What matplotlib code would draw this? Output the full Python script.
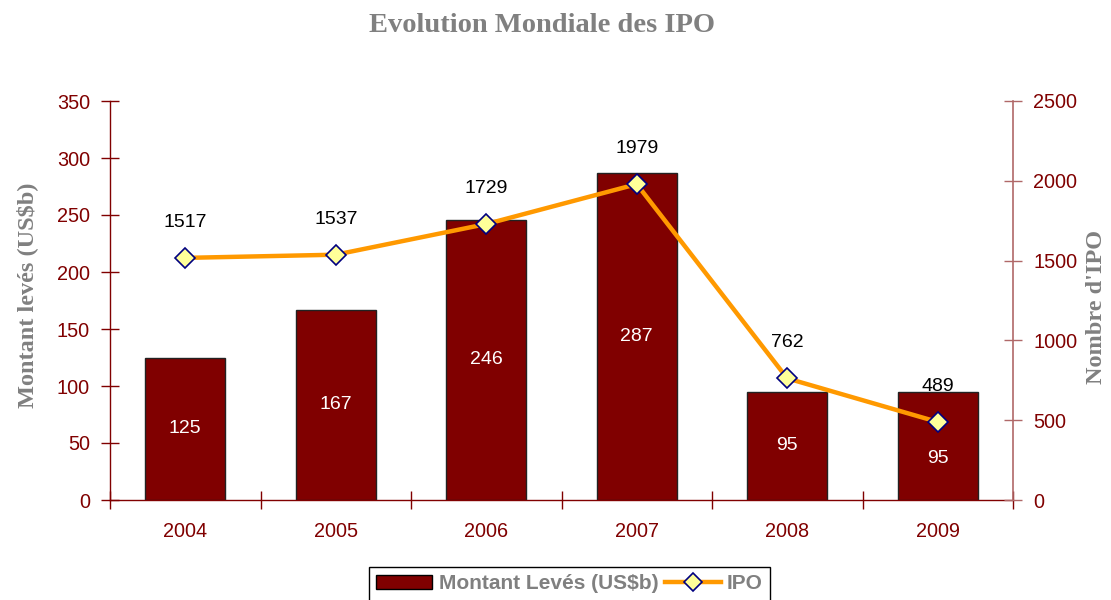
import matplotlib
matplotlib.use("Agg")
import matplotlib.pyplot as plt
from matplotlib.patches import Patch
from matplotlib.lines import Line2D

years = ["2004", "2005", "2006", "2007", "2008", "2009"]
montant = [125, 167, 246, 287, 95, 95]
ipo = [1517, 1537, 1729, 1979, 762, 489]

DARKRED = "#800000"
GRAY = "#808080"
ORANGE = "#FF9900"

plt.rcParams['font.family'] = ['Liberation Sans', 'DejaVu Sans']

fig = plt.figure(figsize=(11.11, 6.0), dpi=100)
ax = fig.add_axes([110/1111, 1-500/600, 903/1111, 399/600])
x = list(range(len(years)))

bars = ax.bar(x, montant, width=0.53, color=DARKRED, edgecolor="#222222", linewidth=1.0, zorder=2)
ax.set_xlim(-0.5, len(years)-0.5)
ax.set_ylim(0, 350)
ax.set_yticks(range(0, 351, 50))
ax.set_xticks(x)
ax.set_xticklabels(years)
ax.set_xticks([i + 0.5 for i in range(-1, len(years))], minor=True)
ax.tick_params(axis='x', which='major', length=0, pad=16, labelsize=14.3, labelcolor=DARKRED)
ax.tick_params(axis='x', which='minor', length=13, direction='inout', color=DARKRED, width=1)
ax.tick_params(axis='y', length=13, direction='inout', color=DARKRED, width=1, labelsize=14.3, labelcolor=DARKRED, pad=8)
for s in ['top', 'right']:
    ax.spines[s].set_visible(False)
for s in ['left', 'bottom']:
    ax.spines[s].set_color(DARKRED)
    ax.spines[s].set_linewidth(1)

label_offsets = [0, 0, 0, 0, 0, -9]
for xi, v, off in zip(x, montant, label_offsets):
    ax.annotate(str(v), (xi, v/2), xytext=(0, off), textcoords='offset points',
                ha='center', va='center', color='white', fontsize=14, zorder=3)

ax2 = ax.twinx()
ax2.set_ylim(0, 2500)
ax2.set_yticks(range(0, 2501, 500))
ax2.plot(x, ipo, color=ORANGE, linewidth=3.2, marker='D', markersize=10,
         markerfacecolor="#FFFF99", markeredgecolor="#000080", markeredgewidth=1.2, zorder=4)
ax2.tick_params(axis='y', length=13, direction='inout', color="#B06868", width=1, labelsize=14.3, labelcolor=DARKRED, pad=8)
for s in ['top', 'left', 'bottom']:
    ax2.spines[s].set_visible(False)
ax2.spines['right'].set_color("#B06868")
ax2.spines['right'].set_linewidth(1.2)
for xi, v in zip(x, ipo):
    ax2.annotate(str(v), (xi, v), xytext=(0, 25.5), textcoords='offset points',
                 ha='center', va='center', color='black', fontsize=14)

fig.text(542/1111, 1-26/600, "Evolution Mondiale des IPO", ha='center', va='center',
         family='Liberation Serif', fontweight='bold', fontsize=20.5, color=GRAY)
fig.text(27/1111, 1-295/600, "Montant levés (US$b)", ha='center', va='center', rotation=90,
         family='Liberation Serif', fontweight='bold', fontsize=17.5, color=GRAY)
fig.text(1097/1111, 1-307/600, "Nombre d'IPO", ha='center', va='center', rotation=90,
         family='Liberation Serif', fontweight='bold', fontsize=17.5, color=GRAY)

handles = [Patch(facecolor=DARKRED, edgecolor='black', linewidth=1.0),
           Line2D([0], [0], color=ORANGE, linewidth=3.2, marker='D', markersize=9,
                  markerfacecolor="#FFFF99", markeredgecolor="#000080", markeredgewidth=1.2)]
leg = fig.legend(handles, ["Montant Levés (US$b)", "IPO"], loc='upper center',
                 bbox_to_anchor=(569.5/1111, 1-567/600), borderaxespad=0, ncol=2, frameon=True, fancybox=False,
                 edgecolor='black', framealpha=1, borderpad=0.35, handlelength=2.7,
                 handletextpad=0.3, columnspacing=0.3, prop={'weight': 'bold', 'size': 15})
leg.get_frame().set_linewidth(1.0)
for t in leg.get_texts():
    t.set_color(GRAY)

fig.savefig("out.png", dpi=100)
